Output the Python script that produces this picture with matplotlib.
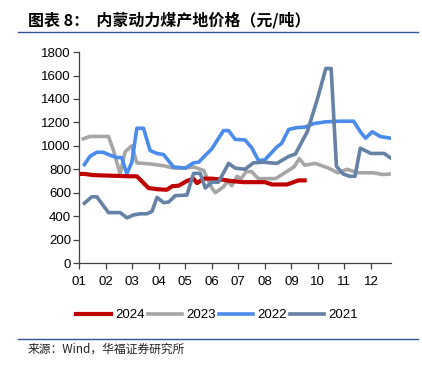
import matplotlib.pyplot as plt
from matplotlib.lines import Line2D

plt.rcParams['font.family'] = ['Liberation Sans', 'Noto Sans CJK SC', 'DejaVu Sans']

# month position (0 = 01, 11 = 12) and price, yuan/ton
x2024 = [0.03, 0.2, 0.53, 1.92, 2.17, 2.61, 2.93, 3.3, 3.5, 3.75, 4.06, 4.31, 4.44, 4.69, 5.0,
         5.44, 5.7, 6.2, 7.0, 7.27, 7.83, 8.08, 8.27, 8.5]
y2024 = [760, 760, 750, 740, 740, 640, 630, 625, 655, 660, 700, 720, 682, 720, 720,
         710, 700, 690, 690, 670, 670, 690, 705, 705]

x2023 = [0.15, 0.4, 1.1, 1.29, 1.54, 1.73, 1.98, 2.17, 2.67, 3.18, 3.55, 4.0, 4.31, 4.69, 5.0,
         5.13, 5.44, 5.6, 5.75, 5.95, 6.1, 6.3, 6.5, 6.75, 7.4, 7.75, 8.1, 8.3, 8.5, 8.9,
         9.4, 9.75, 10.1, 10.5, 11.1, 11.45, 11.75]
y2023 = [1060, 1080, 1080, 960, 760, 950, 1000, 855, 845, 830, 810, 810, 820, 790, 640,
         600, 650, 700, 660, 740, 720, 780, 780, 720, 720, 770, 820, 890, 835, 850,
         810, 770, 800, 770, 770, 755, 760]

x2022 = [0.19, 0.4, 0.66, 0.9, 1.16, 1.41, 1.6, 1.79, 1.98, 2.17, 2.42, 2.67, 2.93, 3.18, 3.55,
         4.0, 4.31, 4.5, 5.0, 5.44, 5.63, 5.88, 6.25, 6.5, 6.76, 7.0, 7.45, 7.63, 7.9, 8.2,
         8.52, 8.84, 9.3, 9.85, 10.35, 10.6, 10.8, 11.05, 11.35, 11.6, 11.75]
y2022 = [840, 910, 945, 945, 920, 900, 900, 760, 860, 1150, 1150, 960, 935, 925, 820,
         810, 855, 860, 975, 1130, 1130, 1055, 1050, 985, 875, 880, 990, 1020, 1140, 1155,
         1160, 1190, 1205, 1210, 1210, 1120, 1065, 1120, 1080, 1070, 1065]

x2021 = [0.19, 0.47, 0.66, 1.1, 1.54, 1.8, 2.04, 2.3, 2.55, 2.74, 2.93, 3.18, 3.37, 3.62, 4.06,
         4.31, 4.56, 4.75, 5.0, 5.25, 5.63, 5.88, 6.25, 6.57, 6.95, 7.45, 7.9, 8.15, 8.6, 8.97,
         9.3, 9.5, 9.7, 9.95, 10.2, 10.4, 10.6, 11.0, 11.5, 11.75]
y2021 = [510, 565, 565, 430, 430, 385, 410, 420, 420, 440, 560, 515, 520, 575, 580,
         765, 765, 640, 690, 690, 850, 810, 800, 855, 860, 850, 910, 930, 1120, 1390,
         1660, 1660, 825, 760, 740, 740, 980, 935, 935, 895]

months = ['01', '02', '03', '04', '05', '06', '07', '08', '09', '10', '11', '12']
series = [('2024', x2024, y2024, '#C00000', 4, 3.0),
          ('2023', x2023, y2023, '#A6A6A6', 1, 2.6),
          ('2022', x2022, y2022, '#4A8BEB', 2, 2.6),
          ('2021', x2021, y2021, '#6581A6', 5, 2.6)]

fig = plt.figure(figsize=(4.22, 3.72), dpi=100)
ax = fig.add_axes([0.188, 0.293, 0.738, 0.567])

for name, xs, ys, c, z, w in series:
    ax.plot(xs, ys, color=c, lw=w, zorder=z, solid_joinstyle='round')

ax.set_xlim(0, 11.75)
ax.set_ylim(0, 1800)
ax.set_yticks(range(0, 1801, 200))
ax.set_xticks(range(12))
ax.set_xticklabels(months)
for s in ['top', 'right']:
    ax.spines[s].set_visible(False)
for s in ['left', 'bottom']:
    ax.spines[s].set_color('#404040')
    ax.spines[s].set_linewidth(0.9)
ax.tick_params(axis='both', labelsize=9.5, color='#404040', length=4, width=0.9)
ax.tick_params(axis='x', pad=5)
ax.tick_params(axis='y', pad=2)

handles = [Line2D([], [], color=s[3], lw=s[5]) for s in series]
fig.legend(handles, [s[0] for s in series], loc='center', bbox_to_anchor=(0.515, 0.153),
           ncol=4, frameon=False, fontsize=9.5, handlelength=2.6, handletextpad=0.35,
           columnspacing=0.2)

fig.text(0.066, 0.946, '图表 8：  内蒙动力煤产地价格（元/吨）', fontsize=11.5, fontweight='bold',
         family=['Noto Sans CJK SC'], va='center')
fig.add_artist(Line2D([0.043, 0.99], [0.914, 0.914], color='#2F5597', lw=1.0))
fig.add_artist(Line2D([0.043, 0.99], [0.089, 0.089], color='#2F5597', lw=1.0))
fig.text(0.066, 0.062, '来源：Wind，华福证券研究所', fontsize=8.5,
         family=['Noto Sans CJK SC'], va='center', color='#222222')

fig.savefig('out.png', dpi=100)
